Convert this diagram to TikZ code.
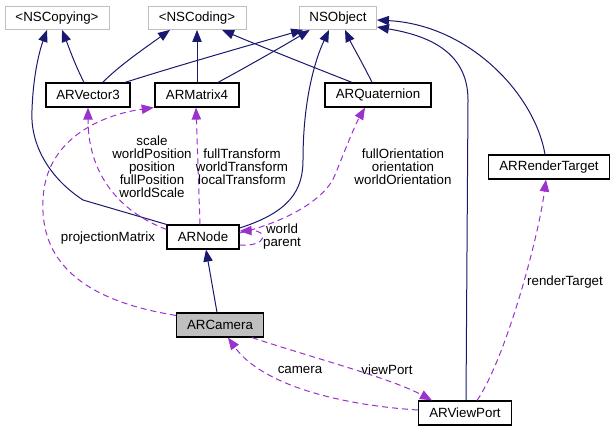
\documentclass[tikz,border=0pt]{standalone}
\usepackage{fontspec}
\setmainfont{Liberation Sans}
\usetikzlibrary{arrows.meta}
\definecolor{navyc}{HTML}{191970}
\definecolor{purc}{HTML}{9A32CD}
\definecolor{extgray}{HTML}{BFBFBF}
\begin{document}
\begin{tikzpicture}[x=0.75pt,y=-0.75pt,
  font=\fontsize{10pt}{9.75pt}\selectfont,
  cls/.style={draw=black,line width=0.9pt,minimum height=18pt,inner sep=1pt,fill=white},
  ext/.style={draw=extgray,line width=0.6pt,minimum height=17.25pt,inner sep=1pt,fill=white},
  inh/.style={draw=navyc,line width=0.75pt,-{Triangle[length=9pt,width=7pt]},color=navyc},
  use/.style={draw=purc,line width=0.75pt,dash pattern=on 4.5pt off 3pt,-{Triangle[length=9pt,width=7pt]},color=purc},
  lbl/.style={align=center,inner sep=0pt,text=black}]
\useasboundingbox (0,0) rectangle (616,432);
\fill[white] (0,0) rectangle (616,432);

% nodes
\node[ext,minimum width=78pt] (nscopy) at (57,18) {<NSCopying>};
\node[ext,minimum width=73.5pt] (nscoding) at (197,18) {<NSCoding>};
\node[ext,minimum width=57.75pt] (nsobject) at (338,18) {NSObject};
\node[cls,minimum width=63pt] (vec) at (88,95) {ARVector3};
\node[cls,minimum width=63pt] (mat) at (197,95) {ARMatrix4};
\node[cls,minimum width=79.5pt] (quat) at (378,95) {ARQuaternion};
\node[cls,minimum width=90.75pt] (rt) at (549,167) {ARRenderTarget};
\node[cls,minimum width=54pt] (arnode) at (203,237) {ARNode};
\node[cls,minimum width=65.25pt,fill=extgray] (cam) at (220,325) {ARCamera};
\node[cls,minimum width=69.75pt] (vp) at (465,413) {ARViewPort};

% inheritance
\draw[inh] ([xshift=-3pt]vec.north) .. controls (75,65) and (68,45) .. ([xshift=3.75pt]nscopy.south);
\draw[inh] ([xshift=11pt]vec.north) .. controls (120,65) and (145,48) .. ([xshift=-20.25pt]nscoding.south);
\draw[inh] ([xshift=27.75pt]vec.north) .. controls (180,65) and (250,45) .. ([xshift=3pt]nsobject.south west);
\draw[inh] (mat.north) -- (nscoding.south);
\draw[inh] ([xshift=15.75pt]mat.north) .. controls (250,65) and (285,45) .. ([xshift=8pt]nsobject.south west);
\draw[inh] ([xshift=-19.5pt]quat.north) .. controls (300,62) and (250,42) .. ([xshift=18.75pt]nscoding.south);
\draw[inh] ([xshift=-4.5pt]quat.north) .. controls (362,62) and (352,45) .. ([xshift=5.25pt]nsobject.south);
\draw[inh] (arnode.north west) -- (83,200) .. controls (45,175) and (30,140) .. (32,110) .. controls (33,80) and (38,55) .. ([xshift=-7.5pt]nscopy.south);
\draw[inh] ([yshift=6.75pt]arnode.east) .. controls (290,212) and (303,190) .. (303,160) .. controls (303,100) and (315,60) .. ([xshift=-6.75pt]nsobject.south);
\draw[inh] ([xshift=-2.25pt]cam.north) -- ([xshift=2.25pt]arnode.south);
\draw[inh] ([xshift=0.75pt]vp.north) -- (468,100) .. controls (468,50) and (425,35) .. ([yshift=-6.75pt]nsobject.east);
\draw[inh] ([xshift=-3pt]rt.north) .. controls (535,95) and (470,25) .. ([yshift=-1.5pt]nsobject.east);

% usage
\draw[use] ([yshift=-3.75pt]arnode.north west) .. controls (115,210) and (88,170) .. (vec.south);
\draw[use] ([xshift=-2.25pt]arnode.north) -- ([xshift=-0.75pt]mat.south);
\draw[use] ([yshift=-2.25pt]cam.north west) .. controls (80,300) and (40,260) .. (43,200) .. controls (45,140) and (100,115) .. ([xshift=-0.5pt]mat.south west);
\draw[use] ([yshift=3pt]arnode.east) .. controls (285,222) and (325,200) .. (335,175) .. controls (345,150) and (355,125) .. ([xshift=-9.75pt]quat.south);
\draw[use] ([yshift=-6pt]arnode.east) .. controls (268,247) and (268,230) .. ([yshift=4.5pt]arnode.east);
\draw[use] ([xshift=9pt]vp.north) .. controls (505,360) and (538,240) .. ([xshift=-2.25pt]rt.south);
\draw[use] ([xshift=24pt]cam.south) .. controls (320,360) and (390,378) .. ([xshift=-24.75pt]vp.north);
\draw[use] ([yshift=2.25pt]vp.west) .. controls (340,405) and (262,385) .. ([xshift=6pt]cam.south);

% labels
\node[lbl] (l1) at (152,167) {scale\\worldPosition\\position\\fullPosition\\worldScale};
\node[lbl] (l2) at (242,167) {fullTransform\\worldTransform\\localTransform};
\node[lbl] (l3) at (403,167) {fullOrientation\\orientation\\worldOrientation};
\node[lbl] (l4) at (108,238) {projectionMatrix};
\node[lbl] (l5) at (282,237) {world\\parent};
\node[lbl] (l6) at (565,282) {renderTarget};
\node[lbl] (l7) at (387,370) {viewPort};
\node[lbl] (l8) at (300,370) {camera};
\end{tikzpicture}
\end{document}
